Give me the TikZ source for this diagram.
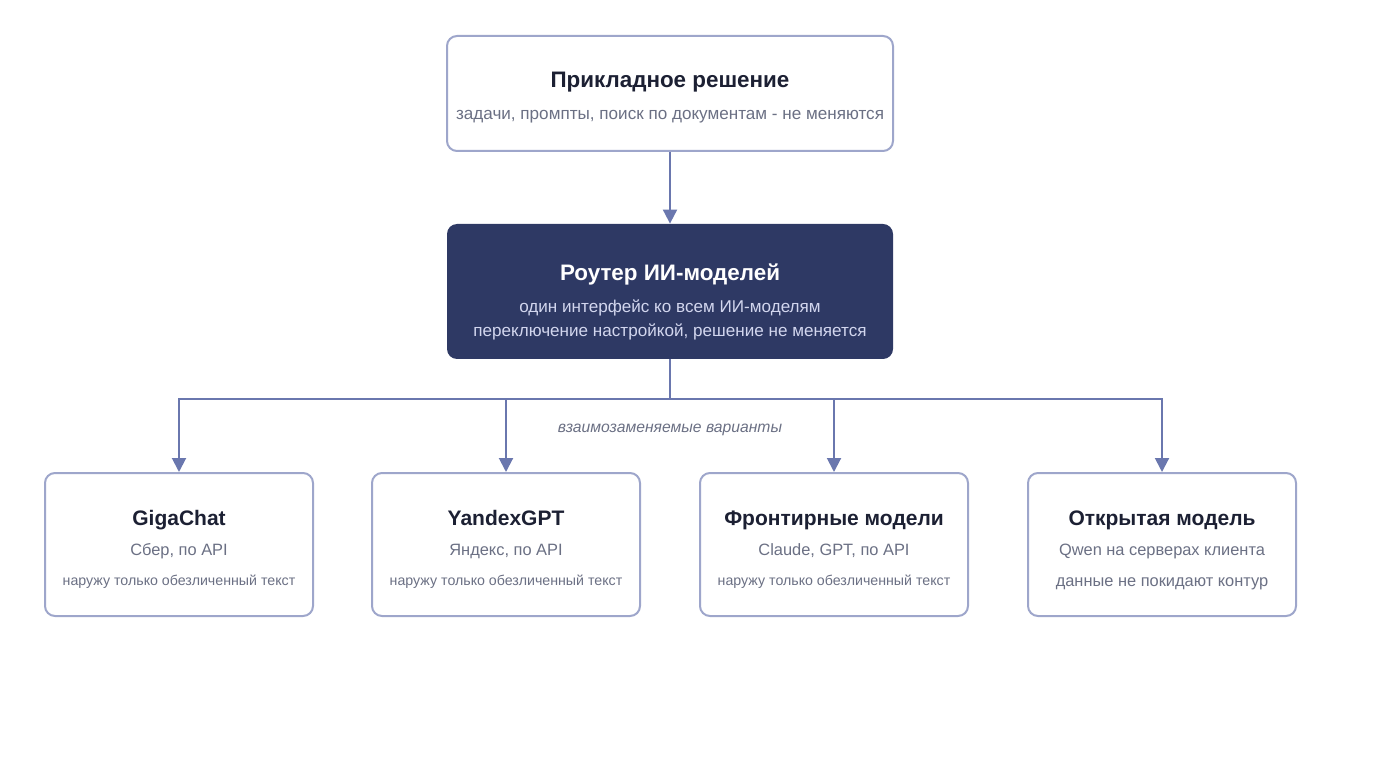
\documentclass[tikz,border=0pt]{standalone}
\usepackage{fontspec}
\setmainfont{Liberation Sans}
\usepackage{xcolor}
\usetikzlibrary{arrows.meta,positioning}

\definecolor{cardline}{HTML}{9EA6CB}
\definecolor{wirecol}{HTML}{6A77AE}
\definecolor{navy}{HTML}{2E3964}
\definecolor{ink}{HTML}{1C2033}
\definecolor{muted}{HTML}{6B7084}
\definecolor{pale}{HTML}{D2D6EE}

\begin{document}
\begin{tikzpicture}[
    x=0.5pt, y=-0.5pt,
    card/.style={rectangle, rounded corners=5pt, draw=cardline, line width=1pt, fill=white},
    topcard/.style={card, minimum width=223pt, minimum height=57.5pt},
    model/.style={card, minimum width=134pt, minimum height=71.5pt},
    router/.style={rectangle, rounded corners=5pt, fill=navy, minimum width=223pt, minimum height=67.5pt},
    ttl/.style={anchor=base, inner sep=0pt, text=ink, font=\fontsize{11.2}{13}\selectfont\bfseries},
    mttl/.style={ttl, font=\fontsize{10.5}{13}\selectfont\bfseries},
    sub/.style={anchor=base, inner sep=0pt, text=muted, font=\fontsize{8.55}{10}\selectfont},
    msub/.style={sub, font=\fontsize{8.2}{10}\selectfont},
    note/.style={sub, font=\fontsize{7.1}{9}\selectfont},
    wire/.style={draw=wirecol, line width=1pt},
    tip/.style={wire, -{Triangle[width=7pt,length=7pt]}}
]
\useasboundingbox (0,0) rectangle (1400,774);

% application
\node[topcard] (app) at (670,93.5) {};
\node[ttl] (appT) at (670,88) {Прикладное решение};
\node[sub] (appS) at (670,119.5) {задачи, промпты, поиск по документам - не меняются};

% router
\node[router] (router) at (670,291.5) {};
\node[ttl, text=white] (routT) at (670,281) {Роутер ИИ-моделей};
\node[sub, text=pale] (routA) at (670,313) {один интерфейс ко всем ИИ-моделям};
\node[sub, text=pale] (routB) at (670,337) {переключение настройкой, решение не меняется};

% models
\node[model] (giga) at (179,544.5) {};
\node[mttl] (gigaT) at (179,525.5) {GigaChat};
\node[msub] (gigaA) at (179,555.5) {Сбер, по API};
\node[note] (gigaB) at (179,585) {наружу только обезличенный текст};

\node[model] (yagpt) at (506,544.5) {};
\node[mttl] (yagptT) at (506,525.5) {YandexGPT};
\node[msub] (yagptA) at (506,555.5) {Яндекс, по API};
\node[note] (yagptB) at (506,585) {наружу только обезличенный текст};

\node[model] (front) at (834,544.5) {};
\node[mttl] (frontT) at (834,525.5) {Фронтирные модели};
\node[msub] (frontA) at (834,555.5) {Claude, GPT, по API};
\node[note] (frontB) at (834,585) {наружу только обезличенный текст};

\node[model] (open) at (1162,544.5) {};
\node[mttl] (openT) at (1162,525.5) {Открытая модель};
\node[msub] (openA) at (1162,555.5) {Qwen на серверах клиента};
\node[msub] (openB) at (1162,586) {данные не покидают контур};

% connections
\coordinate (split) at (670,399);
\draw[tip] (app) -- (router);
\draw[wire] (router) -- (split);
\draw[tip] (split) -| (giga);
\draw[tip] (split) -| (yagpt);
\draw[tip] (split) -| (front);
\draw[tip] (split) -| (open);
\node[sub, font=\fontsize{7.85}{10}\selectfont\itshape] (swap) at (670,432) {взаимозаменяемые варианты};

\end{tikzpicture}
\end{document}
